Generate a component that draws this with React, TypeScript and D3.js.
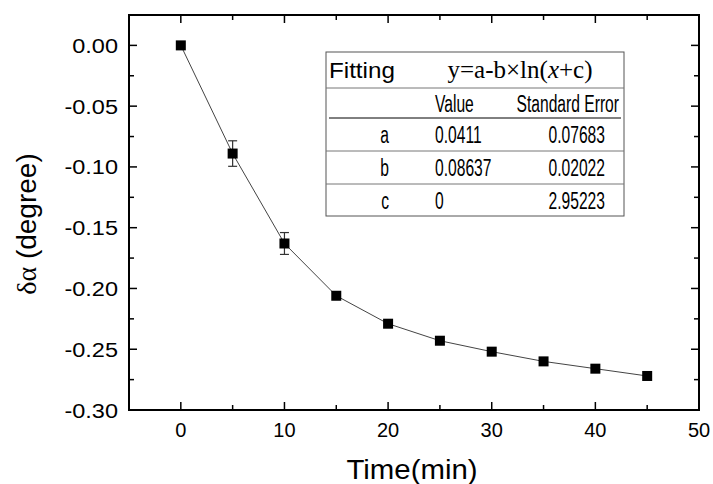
import * as d3 from "d3";
import {useEffect, useRef} from "react";

// measured data
const times = [0, 5, 10, 15, 20, 25, 30, 35, 40, 45];
const dAlpha = [0.0, -0.089, -0.163, -0.206, -0.229, -0.243, -0.252, -0.260, -0.266, -0.272];
const errors = [0, 0.0105, 0.009, 0, 0, 0, 0, 0, 0, 0];

const xTicks = [0, 10, 20, 30, 40, 50];
const yTicks = [0, -0.05, -0.1, -0.15, -0.2, -0.25, -0.3];

// fitting table
const fitParams = ["a", "b", "c"];
const fitValues = ["0.0411", "0.08637", "0"];
const fitErrors = ["0.07683", "0.02022", "2.95223"];

export default function App() {
    const ref = useRef<SVGSVGElement>(null);

    useEffect(() => {
        const width = 713;
        const height = 484;
        const margin = {top: 15, right: 14, bottom: 74, left: 129};
        const svg = d3.select(ref.current);
        svg.selectAll("*").remove();
        svg.attr("width", width).attr("height", height);

        const x = d3.scaleLinear().domain([-5, 50]).range([margin.left, width - margin.right]);
        const y = d3.scaleLinear().domain([-0.3, 0.025]).range([height - margin.bottom, margin.top]);

        const font = "Arial, 'Liberation Sans', sans-serif";
        const serif = "'Liberation Serif', 'Times New Roman', serif";
        const x0 = x.range()[0], x1 = x.range()[1];
        const y0 = y.range()[0], y1 = y.range()[1];

        // text with a horizontal stretch (the original fonts are wider / narrower)
        const txt = (g: any, tx: number, ty: number, s: string, size: number, sx = 1, anchor = "start") =>
            g.append("text").attr("transform", `translate(${tx},${ty}) scale(${sx},1)`)
                .attr("text-anchor", anchor).attr("font-family", font).attr("font-size", size).text(s);

        // ticks (inward on all four sides)
        const g = svg.append("g").attr("stroke", "#000").attr("stroke-width", 1.5);
        d3.range(-5, 50.01, 5).forEach(v => {
            const len = v % 10 === 0 ? 8 : 5;
            if (v === -5 || v === 50) return;
            g.append("line").attr("x1", x(v)).attr("x2", x(v)).attr("y1", y0).attr("y2", y0 - len);
            g.append("line").attr("x1", x(v)).attr("x2", x(v)).attr("y1", y1).attr("y2", y1 + len);
        });
        d3.range(-0.3, 0.026, 0.025).forEach(v => {
            const k = Math.round(v * 1000);
            if (k === -300 || k === 25) return;
            const len = k % 50 === 0 ? 8 : 5;
            g.append("line").attr("y1", y(v)).attr("y2", y(v)).attr("x1", x0).attr("x2", x0 + len);
            g.append("line").attr("y1", y(v)).attr("y2", y(v)).attr("x1", x1).attr("x2", x1 - len);
        });

        // frame
        svg.append("rect").attr("x", x0).attr("y", y1).attr("width", x1 - x0).attr("height", y0 - y1)
            .attr("fill", "none").attr("stroke", "#000").attr("stroke-width", 2);

        // tick labels (plain hyphen as minus, like the original)
        const xl = svg.append("g");
        xTicks.forEach(d => txt(xl, x(d), y0 + 27, String(d), 20, 1, "middle"));
        const ylab = svg.append("g");
        yTicks.forEach(d => txt(ylab, x0 - 11, y(d) + 7.5, d3.format(".2f")(d).replace("−", "-"), 21, 1.12, "end"));

        // axis titles
        txt(svg, 412, 479, "Time(min)", 28, 1.05, "middle");
        const yl = svg.append("text").attr("transform", `translate(36,224) rotate(-90)`)
            .attr("text-anchor", "middle").attr("font-family", font).attr("font-size", 28);
        yl.append("tspan").attr("font-family", serif).text("δα");
        yl.append("tspan").text(" (degree)");

        // connecting line
        const line = d3.line<number>().x((_, i) => x(times[i])).y(d => y(d));
        svg.append("path").datum(dAlpha).attr("d", line).attr("fill", "none")
            .attr("stroke", "#444").attr("stroke-width", 1);

        // error bars
        const eb = svg.append("g").attr("stroke", "#333").attr("stroke-width", 1.2);
        dAlpha.forEach((d, i) => {
            if (!errors[i]) return;
            const cx = x(times[i]);
            eb.append("line").attr("x1", cx).attr("x2", cx).attr("y1", y(d + errors[i])).attr("y2", y(d - errors[i]));
            [d + errors[i], d - errors[i]].forEach(v => {
                eb.append("line").attr("x1", cx - 4.5).attr("x2", cx + 4.5).attr("y1", y(v)).attr("y2", y(v));
            });
        });

        // markers
        svg.append("g").selectAll("rect").data(dAlpha).join("rect")
            .attr("x", (_, i) => x(times[i]) - 5).attr("y", d => y(d) - 5)
            .attr("width", 10).attr("height", 10).attr("fill", "#000");

        // fitting table
        const tl = 326, tr = 624, tt = 52;
        const rows = [tt, 88, 118, 151, 184, 216];
        const tb = svg.append("g");
        tb.append("rect").attr("x", tl).attr("y", tt).attr("width", tr - tl).attr("height", rows[5] - tt)
            .attr("fill", "#fff").attr("stroke", "#555").attr("stroke-width", 1);
        [rows[1], rows[3], rows[4]].forEach(r => {
            tb.append("line").attr("x1", tl).attr("x2", tr).attr("y1", r).attr("y2", r)
                .attr("stroke", "#777").attr("stroke-width", 1);
        });
        tb.append("line").attr("x1", tl + 3).attr("x2", tr - 3).attr("y1", rows[2]).attr("y2", rows[2])
            .attr("stroke", "#000").attr("stroke-width", 1);

        txt(tb, 329, 78, "Fitting", 22, 1.1);
        const f = tb.append("text").attr("x", 520).attr("y", 78).attr("text-anchor", "middle")
            .attr("font-family", serif).attr("font-size", 25);
        f.append("tspan").text("y=a-b×ln(");
        f.append("tspan").attr("font-style", "italic").text("x");
        f.append("tspan").text("+c)");

        const nx = 0.68; // condensed table font
        txt(tb, 435, 112, "Value", 23, nx);
        txt(tb, 619, 112, "Standard Error", 23, nx, "end");
        fitParams.forEach((p, i) => {
            const base = rows[i + 2] + 25;
            txt(tb, 389, base, p, 23, nx, "end");
            txt(tb, 435, base, fitValues[i], 23, nx);
            txt(tb, 605, base, fitErrors[i], 23, nx, "end");
        });
    }, []);

    return <svg ref={ref} style={{position: "absolute", left: 0, top: 0}}></svg>;
}
